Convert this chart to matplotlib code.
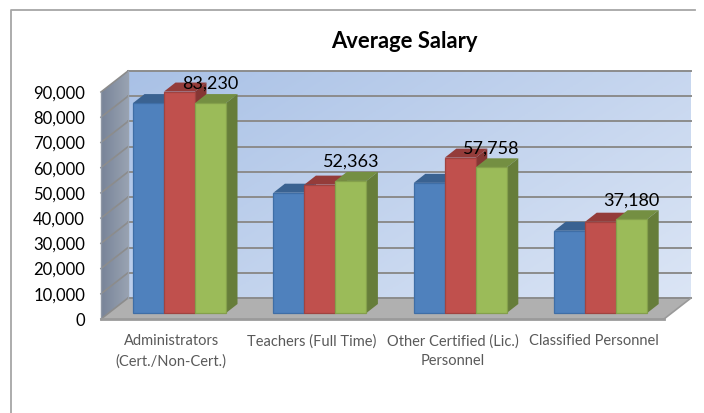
import numpy as np
import matplotlib
matplotlib.use("Agg")
import matplotlib.pyplot as plt
from matplotlib.lines import Line2D
from matplotlib.patches import Polygon

categories = ["Administrators\n(Cert./Non-Cert.)", "Teachers (Full Time)",
              "Other Certified (Lic.)\nPersonnel", "Classified Personnel"]
series_a = [83230, 47700, 51600, 32600]
series_b = [87800, 50900, 61600, 36200]
series_c = [83230, 52363, 57758, 37180]
data_labels = ["83,230", "52,363", "57,758", "37,180"]
yticks = [0, 10000, 20000, 30000, 40000, 50000, 60000, 70000, 80000, 90000]
ylabels = ["0", "10,000", "20,000", "30,000", "40,000", "50,000", "60,000", "70,000", "80,000", "90,000"]

plt.rcParams["font.family"] = ["Lato", "DejaVu Sans"]
W, H = 704, 413
fig = plt.figure(figsize=(W / 100, H / 100), dpi=100, facecolor="white")
AL, AR, AB, AT = 101, 664, 319, 92
ax = fig.add_axes([AL / W, 1 - AB / H, (AR - AL) / W, (AB - AT) / H])
ax.patch.set_visible(False)
for s in ax.spines.values():
    s.set_visible(False)

ux = 4 / (AR - AL)          # category units per pixel
uy = 90000 / (AB - AT)      # value units per pixel
X = lambda p: -0.5 + (p - AL) * ux
Y = lambda p: (AB - p) * uy

# frame: only the top and left edges fall inside the crop
fig.add_artist(Line2D([10.5 / W, 10.5 / W, 695 / W], [0, 1 - 9.5 / H, 1 - 9.5 / H],
                      transform=fig.transFigure, color="#a6a6a6", lw=1.3))

# back wall gradient
WX, WY = 27, 21
gx, gy = np.meshgrid(np.linspace(0, 1, 200), np.linspace(0, 1, 100))
grad = 0.6 * gx + 0.4 * gy
c0 = np.array([0xa9, 0xc1, 0xe6]) / 255
c1 = np.array([0xdb, 0xe5, 0xf5]) / 255
img = c0[None, None, :] * (1 - grad[..., None]) + c1[None, None, :] * grad[..., None]
ax.imshow(img, extent=(X(AL + WX), X(691), Y(AB - WY), Y(71)), origin="upper", aspect="auto",
          zorder=1, clip_on=False)

# left wall gradient
gw = np.linspace(0, 1, 40)[None, :, None]
cw0 = np.array([0x78, 0x84, 0x98]) / 255
cw1 = np.array([0x98, 0xa2, 0xb2]) / 255
imw = ax.imshow(cw0 * (1 - gw) + cw1 * gw, extent=(X(AL), X(AL + WX), Y(AB), Y(71)), aspect="auto", zorder=1)
ax.set_xlim(-0.5, 3.5)
ax.set_ylim(0, 90000)
imw.set_clip_box(fig.bbox)
imw.set_clip_path(Polygon([(X(AL), 0), (X(AL + WX), Y(AB - WY)), (X(AL + WX), Y(71)), (X(AL), 90000)],
                          transform=ax.transData))

# floor
ax.add_patch(Polygon([(X(AL), 0), (X(AL + WX), Y(AB - WY)), (X(691), Y(AB - WY)), (X(AR), 0)],
                     fc="#b0b0b0", ec="none", zorder=2, clip_on=False))

# gridlines
gc = "#8c8c8c"
for v in yticks:
    ax.plot([X(AL + WX), X(691)], [v + WY * uy] * 2, color=gc, lw=1.4, zorder=2, clip_on=False)
    ax.plot([X(AL), X(AL + WX)], [v, v + WY * uy], color=gc, lw=1.2, zorder=2, clip_on=False)
ax.plot([X(AL + WX)] * 2, [WY * uy, 90000 + WY * uy], color="#9aa3b0", lw=1, zorder=2, clip_on=False)
ax.plot([X(AL)] * 2, [0, 90000], color="#8e97a5", lw=1, zorder=2, clip_on=False)
ax.plot([X(AL), X(AR)], [0, 0], color="#9a9a9a", lw=2, zorder=2.5, clip_on=False)
ax.plot([X(AR), X(691)], [0, WY * uy], color="#9a9a9a", lw=1.2, zorder=2.5, clip_on=False)

# bars
bw = 31 * ux
base = 6 * uy
DX, DY = 11.5, 9
colors = [("#4f81bd", "#3a6291", "#34587f", "#3f6ea6"),
          ("#c0504d", "#943c3a", "#853634", "#a04340"),
          ("#9bbb59", "#748f42", "#667d3a", "#84a04b")]
pos = np.arange(len(categories))
bar_pos = pos * 0.9975 + X(133.0)
for j, (vals, (front, top, side, edge)) in enumerate(zip([series_a, series_b, series_c], colors)):
    xs = bar_pos + j * bw
    zb = 3 + j * 0.1
    ax.bar(xs, vals, width=bw, bottom=base, align="edge", color=front, edgecolor=edge,
           lw=0.9, zorder=zb + 0.05, clip_on=False)
    for x0, v in zip(xs, vals):
        t = base + v
        ax.add_patch(Polygon([(x0, t), (x0 + DX * ux, t + DY * uy), (x0 + bw + DX * ux, t + DY * uy), (x0 + bw, t)],
                             fc=top, ec="none", zorder=zb, clip_on=False))
        ax.add_patch(Polygon([(x0 + bw, base), (x0 + bw + DX * ux, base + DY * uy),
                              (x0 + bw + DX * ux, t + DY * uy), (x0 + bw, t)],
                             fc=side, ec="none", zorder=zb, clip_on=False))

# data labels (above green bars)
for x0, v, lab in zip(bar_pos, series_c, data_labels):
    ax.text(x0 + 2.5 * bw, base + v + 11 * uy, lab, ha="center", va="bottom",
            fontsize=13, color="black", zorder=6, clip_on=False)

# axes text
ax.set_yticks(yticks, ylabels)
ax.tick_params(axis="y", length=0, pad=11.5, labelsize=12, labelcolor="black")
ax.set_xticks(pos, categories)
ax.tick_params(axis="x", length=0, pad=11, labelsize=10.5, labelcolor="#595959")
for t in ax.get_xticklabels():
    t.set_linespacing(1.5)
fig.text(404.5 / W, 1 - 41 / H, "Average Salary", ha="center", va="center", fontsize=15.8,
         fontweight="bold", color="black")
fig.savefig("out.png", dpi=100)
